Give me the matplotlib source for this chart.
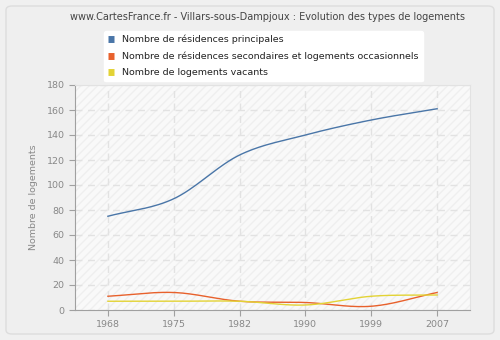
import numpy as np
import matplotlib
matplotlib.use("Agg")
import matplotlib.pyplot as plt
from matplotlib.patches import FancyBboxPatch, Rectangle

years = ["1968", "1975", "1982", "1990", "1999", "2007"]
principales = [75, 89, 124, 140, 152, 161]
secondaires = [11, 14, 7, 6, 3, 14]
vacants = [7, 7, 7, 4, 11, 12]

labels = ["Nombre de résidences principales",
          "Nombre de résidences secondaires et logements occasionnels",
          "Nombre de logements vacants"]
colors = ["#4a76a8", "#e8612c", "#e3d335"]
yticks = list(range(0, 181, 20))


def smooth(x, y, n=30):
    x = np.asarray(x, float)
    y = np.asarray(y, float)
    m = np.zeros_like(y)
    m[1:-1] = (y[2:] - y[:-2]) / (x[2:] - x[:-2])
    m[0] = (y[1] - y[0]) / (x[1] - x[0])
    m[-1] = (y[-1] - y[-2]) / (x[-1] - x[-2])
    xs, ys = [], []
    for i in range(len(x) - 1):
        h = x[i + 1] - x[i]
        t = np.linspace(0, 1, n, endpoint=(i == len(x) - 2))
        h00 = 2 * t**3 - 3 * t**2 + 1
        h10 = t**3 - 2 * t**2 + t
        h01 = -2 * t**3 + 3 * t**2
        h11 = t**3 - t**2
        xs.append(x[i] + t * h)
        ys.append(h00 * y[i] + h10 * h * m[i] + h01 * y[i + 1] + h11 * h * m[i + 1])
    return np.concatenate(xs), np.concatenate(ys)


fig = plt.figure(figsize=(5, 3.4), dpi=100, facecolor="#f0f0f0")
bg = FancyBboxPatch((6 / 500, 6 / 340), 488 / 500, 328 / 340,
                    boxstyle="round,pad=0,rounding_size=0.012",
                    transform=fig.transFigure, facecolor="#efefef",
                    edgecolor="#dddddd", linewidth=1.0, zorder=-10)
fig.patches.append(bg)

ax = fig.add_axes([75 / 500, 30 / 340, 395 / 500, 225 / 340], zorder=1)
ax.set_facecolor("#f9f9f9")
ax.add_patch(Rectangle((0, 0), 1, 1, transform=ax.transAxes, facecolor="none",
                       edgecolor="#efefef", hatch="////", linewidth=0, zorder=0))

x = np.arange(len(years))
series = [principales, secondaires, vacants]
for vals, c, lab in zip(series, colors, labels):
    xs, ys = smooth(x, vals)
    ax.plot(xs, ys, color=c, linewidth=1.0, label=lab, zorder=3)

ax.set_xlim(-0.5, len(years) - 0.5)
ax.set_ylim(0, 180)
ax.set_xticks(x)
ax.set_xticklabels(years)
ax.set_yticks(yticks)
ax.grid(True, color="#e2e2e2", linestyle=(0, (5, 4)), linewidth=1.0)
ax.set_axisbelow(True)
for s in ["top", "right"]:
    ax.spines[s].set_color("#e2e2e2")
for s in ["left", "bottom"]:
    ax.spines[s].set_color("#a0a0a0")
ax.tick_params(colors="#a0a0a0", labelcolor="#888888", labelsize=6.8, length=4)
ax.set_ylabel("Nombre de logements", color="#888888", fontsize=6.8, labelpad=6)

fig.text(267 / 500, 1 - 17 / 340,
         "www.CartesFrance.fr - Villars-sous-Dampjoux : Evolution des types de logements",
         ha="center", va="center", fontsize=7, color="#444444")

leg = fig.legend(loc="upper left", bbox_to_anchor=(99 / 500, 1 - 26 / 340),
                 fontsize=6.8, frameon=True, fancybox=True, handlelength=0.6,
                 handleheight=0.6, handletextpad=0.9, labelspacing=0.75,
                 borderpad=0.45, edgecolor="#ffffff", facecolor="#ffffff",
                 framealpha=1.0, labelcolor="#222222")
leg.set_zorder(5)
for h, c in zip(leg.legend_handles, colors):
    h.set_linewidth(5)
    h.set_solid_capstyle("butt")

fig.savefig("out.png", dpi=100, facecolor=fig.get_facecolor())
